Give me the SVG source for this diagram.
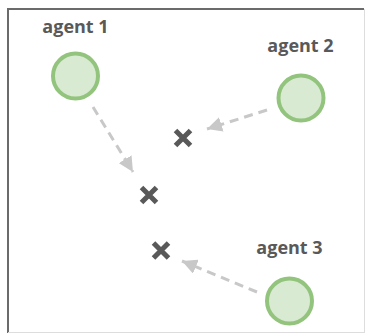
<svg xmlns="http://www.w3.org/2000/svg" width="366" height="334" viewBox="0 0 366 334">
<defs>
<style>
.agent circle{fill:#d9ead3;stroke:#93c47d;stroke-width:4}
.agent text{font-family:"Open Sans","Liberation Sans",sans-serif;font-weight:bold;font-size:18px;fill:#595959;text-anchor:middle}
.conn line{stroke:#c8c8c8;stroke-width:3;stroke-dasharray:9 6;fill:none}
.x path{stroke:#595959;stroke-width:5;fill:none}
</style>
<marker id="ah" viewBox="0 0 10 10" refX="10" refY="5" markerWidth="5" markerHeight="5" orient="auto" markerUnits="strokeWidth">
<path d="M0,0 L10,5 L0,10 Z" fill="#c8c8c8"/>
</marker>
</defs>
<rect width="366" height="334" fill="#fff"/>
<g id="frame">
<line x1="8" y1="9" x2="364" y2="9" stroke="#6b6b6b" stroke-width="2"/>
<line x1="8" y1="8" x2="8" y2="333" stroke="#6b6b6b" stroke-width="2"/>
<line x1="364.5" y1="9" x2="364.5" y2="332" stroke="#dddddd" stroke-width="1"/>
<line x1="8" y1="332.5" x2="365" y2="332.5" stroke="#dddddd" stroke-width="1"/>
</g>
<g id="connectors" class="conn">
<line x1="93" y1="107" x2="133" y2="172" marker-end="url(#ah)"/>
<line x1="267" y1="110" x2="207" y2="129" marker-end="url(#ah)"/>
<line x1="257" y1="292" x2="182" y2="261" marker-end="url(#ah)"/>
</g>
<g id="agent1" class="agent">
<circle cx="75.5" cy="76" r="22.5"/>
<text x="75.5" y="33">agent 1</text>
</g>
<g id="agent2" class="agent">
<circle cx="301" cy="98" r="22.5"/>
<text x="300.5" y="52">agent 2</text>
</g>
<g id="agent3" class="agent">
<circle cx="289.5" cy="301" r="22.5"/>
<text x="289.5" y="254">agent 3</text>
</g>
<g id="x1" class="x"><path d="M175.5,130.5 L190.5,145.5 M190.5,130.5 L175.5,145.5"/></g>
<g id="x2" class="x"><path d="M141.5,187.5 L156.5,202.5 M156.5,187.5 L141.5,202.5"/></g>
<g id="x3" class="x"><path d="M153.5,243 L168.5,258 M168.5,243 L153.5,258"/></g>
</svg>
